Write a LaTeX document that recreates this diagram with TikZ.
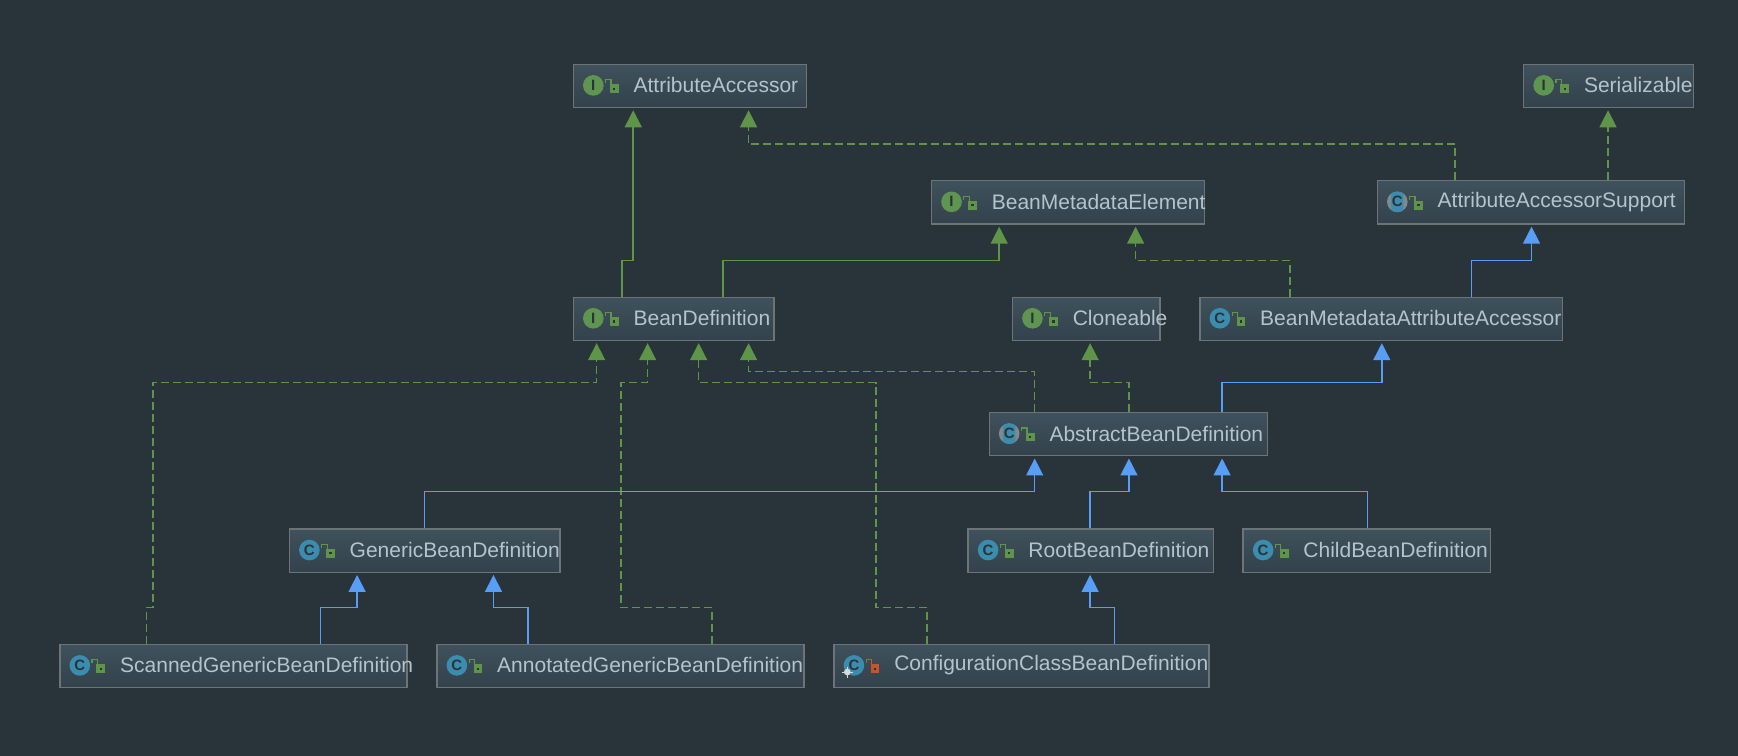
\documentclass[tikz,border=0pt]{standalone}
\usepackage{fontspec}
\setmainfont{Liberation Sans}
\usetikzlibrary{arrows.meta}
\definecolor{bgc}{HTML}{29333A}
\definecolor{boxtop}{HTML}{3F515C}
\definecolor{boxbot}{HTML}{33424C}
\definecolor{boxline}{HTML}{6C7478}
\definecolor{txtc}{HTML}{B5C3CD}
\definecolor{grn}{HTML}{5F9548}
\definecolor{blu}{HTML}{589DF6}
\definecolor{teal}{HTML}{3A8DAF}
\definecolor{icong}{HTML}{5E9550}
\definecolor{orng}{HTML}{C7552B}
\definecolor{inkc}{HTML}{2B3338}
\tikzset{
  umlbox/.style={draw=boxline,line width=0.7pt,top color=boxtop,bottom color=boxbot,inner sep=0pt},
  umltext/.style={anchor=west,inner sep=0pt,text=txtc,font=\fontsize{10.5}{12}\selectfont},
  iconletter/.style={inner sep=0pt,text=inkc,font=\fontsize{7.5}{8}\selectfont\bfseries},
  implements/.style={draw=grn,line width=0.75pt,dash pattern=on 4pt off 2pt,-{Triangle[length=8.5pt,width=8.5pt,fill=grn]},shorten >=1pt},
  extendsi/.style={draw=grn,line width=0.75pt,-{Triangle[length=8.5pt,width=8.5pt,fill=grn]},shorten >=1pt},
  extendsc/.style={draw=blu,line width=0.75pt,-{Triangle[length=8.5pt,width=8.5pt,fill=blu]},shorten >=1pt}
}
% name, x1, y1, x2, y2, text
\newcommand{\umlnode}[6]{%
  \node[umlbox,minimum width={(#4-#2)*0.5545pt},minimum height={(#5-#3)*0.5545pt}] (#1) at ({(#2+#4)/2},{(#3+#5)/2}) {};
  \node[umltext] (#1-t) at ({#2+54},{(#3+#5)/2-0.5}) {#6};
}
\newcommand{\lockicon}[3]{% x, y, colour
  \fill[#3] ({#1-1},{#2-1}) rectangle ({#1+7},{#2+7});
  \fill[bgc] ({#1+2},{#2+2}) rectangle ({#1+4},{#2+4});
  \draw[#3,line width=0.6pt] ({#1},{#2-1}) -- ({#1},{#2-5}) -- ({#1-5},{#2-5}) -- ({#1-5},{#2-2});
}
\newcommand{\icI}[3]{% name,x1,ymid
  \fill[icong] ({#2+18},#3) circle (9.3);
  \node[iconletter,font=\fontsize{7.5}{8}\selectfont\bfseries\rmfamily] (#1-i) at ({#2+18},#3) {I};
  \lockicon{#2+34}{#3}{grn}
}
\newcommand{\icC}[3]{%
  \fill[teal] ({#2+18},#3) circle (9.3);
  \node[iconletter] (#1-i) at ({#2+18},#3) {C};
  \lockicon{#2+34}{#3}{grn}
}
\newcommand{\icA}[3]{%
  \fill[boxline!85!white] ({#2+18},#3) circle (9.3);
  \begin{scope}
    \clip ({#2+12.5},{#3-10}) rectangle ({#2+23.5},{#3+10});
    \fill[teal] ({#2+18},#3) circle (9.3);
  \end{scope}
  \node[iconletter] (#1-i) at ({#2+18},#3) {C};
  \lockicon{#2+34}{#3}{grn}
}
\begin{document}
\begin{tikzpicture}[x=0.5545pt,y=-0.5545pt]
\useasboundingbox (0,0) rectangle (1567.2,681.7);
\fill[bgc] (0,0) rectangle (1567.2,681.7);

\umlnode{aa}{517}{58}{727}{97}{AttributeAccessor}
\umlnode{ser}{1374}{58}{1527}{97}{Serializable}
\umlnode{bme}{840}{163}{1086}{202}{BeanMetadataElement}
\umlnode{aas}{1242}{163}{1519}{202}{AttributeAccessorSupport}
\umlnode{bd}{517}{268}{698}{307}{BeanDefinition}
\umlnode{cln}{913}{268}{1046}{307}{Cloneable}
\umlnode{bmaa}{1082}{268}{1409}{307}{BeanMetadataAttributeAccessor}
\umlnode{abd}{892}{372}{1143}{411}{AbstractBeanDefinition}
\umlnode{gbd}{261}{477}{505}{516}{GenericBeanDefinition}
\umlnode{rbd}{873}{477}{1094}{516}{RootBeanDefinition}
\umlnode{cbd}{1121}{477}{1344}{516}{ChildBeanDefinition}
\umlnode{sgbd}{54}{581}{367}{620}{ScannedGenericBeanDefinition}
\umlnode{agbd}{394}{581}{725}{620}{AnnotatedGenericBeanDefinition}
\umlnode{ccbd}{752}{581}{1090}{620}{ConfigurationClassBeanDefinition}

\icI{aa}{517}{77}
\icI{ser}{1374}{77}
\icI{bme}{840}{182}
\icI{bd}{517}{287}
\icI{cln}{913}{287}
\icA{aas}{1242}{182}
\icA{abd}{892}{391}
\icC{bmaa}{1082}{287}
\icC{gbd}{261}{496}
\icC{rbd}{873}{496}
\icC{cbd}{1121}{496}
\icC{sgbd}{54}{600}
\icC{agbd}{394}{600}
% ConfigurationClassBeanDefinition: private lock, pin badge
\fill[teal] (770,600) circle (9.3);
\node[iconletter] (ccbd-i) at (770,600) {C};
\fill[white!85!black] (764,606) circle (3);
\draw[white!85!black,line width=0.5pt] (759,606) -- (769,606) (764,601) -- (764,611);
\lockicon{786}{600}{orng}

% solid interface inheritance
\draw[extendsi] (561,0 |- bd.north) -- (561,235) -- (571,235) -- (571,0 |- aa.south);
\draw[extendsi] (652,0 |- bd.north) -- (652,235) -- (901,235) -- (901,0 |- bme.south);
% implementations
\draw[implements] (1450,0 |- aas.north) -- (1450,0 |- ser.south);
\draw[implements] (1312,0 |- aas.north) -- (1312,130) -- (675,130) -- (675,0 |- aa.south);
\draw[implements] (1163,0 |- bmaa.north) -- (1163,235) -- (1024,235) -- (1024,0 |- bme.south);
\draw[implements] (1018,0 |- abd.north) -- (1018,345) -- (983,345) -- (983,0 |- cln.south);
\draw[implements] (933,0 |- abd.north) -- (933,335) -- (675,335) -- (675,0 |- bd.south);
\draw[implements] (132,0 |- sgbd.north) -- (132,548) -- (138,548) -- (138,345) -- (538,345) -- (538,0 |- bd.south);
\draw[implements] (642,0 |- agbd.north) -- (642,548) -- (560,548) -- (560,345) -- (584,345) -- (584,0 |- bd.south);
\draw[implements] (836,0 |- ccbd.north) -- (836,548) -- (790,548) -- (790,345) -- (630,345) -- (630,0 |- bd.south);
% class inheritance
\draw[extendsc] (1327,0 |- bmaa.north) -- (1327,235) -- (1381,235) -- (1381,0 |- aas.south);
\draw[extendsc] (1102,0 |- abd.north) -- (1102,345) -- (1246,345) -- (1246,0 |- bmaa.south);
\draw[extendsc] (383,0 |- gbd.north) -- (383,443) -- (933,443) -- (933,0 |- abd.south);
\draw[extendsc] (983,0 |- rbd.north) -- (983,443) -- (1018,443) -- (1018,0 |- abd.south);
\draw[extendsc] (1233,0 |- cbd.north) -- (1233,443) -- (1102,443) -- (1102,0 |- abd.south);
\draw[extendsc] (289,0 |- sgbd.north) -- (289,548) -- (322,548) -- (322,0 |- gbd.south);
\draw[extendsc] (476,0 |- agbd.north) -- (476,548) -- (445,548) -- (445,0 |- gbd.south);
\draw[extendsc] (1005,0 |- ccbd.north) -- (1005,548) -- (983,548) -- (983,0 |- rbd.south);
\end{tikzpicture}
\end{document}
